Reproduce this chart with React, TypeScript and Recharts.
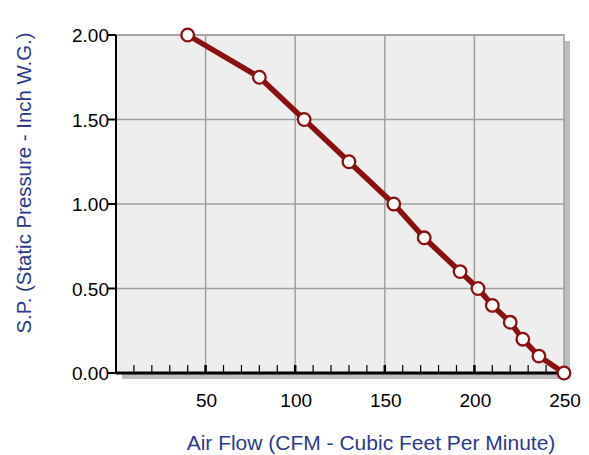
import React from "react";
import {
  ComposedChart,
  Line,
  XAxis,
  YAxis,
  ReferenceLine,
  ReferenceArea,
} from "recharts";

const airFlow = [40, 80, 105, 130, 155, 172, 192, 202, 210, 220, 227, 236, 250];
const pressure = [2.0, 1.75, 1.5, 1.25, 1.0, 0.8, 0.6, 0.5, 0.4, 0.3, 0.2, 0.1, 0.0];
const xTicks = [0, 10, 20, 30, 40, 50, 60, 70, 80, 90, 100, 110, 120, 130, 140, 150, 160, 170, 180, 190, 200, 210, 220, 230, 240, 250];
const xGrid = [50, 100, 150, 200];
const yTicks = [0, 0.5, 1.0, 1.5, 2.0];
const yGrid = [0.5, 1.0, 1.5, 2.0];
const xTitle = "Air Flow (CFM - Cubic Feet Per Minute)";
const yTitle = "S.P. (Static Pressure - Inch W.G.)";

const data = airFlow.map((x, i) => ({ x, y: pressure[i] }));

const FONT = "Liberation Sans, Arial, sans-serif";
const BLUE = "#2B3990";
const RED = "#8B1111";

const XTick = (props: any) => {
  const { x, y, payload } = props;
  const v = payload.value;
  const major = v % 50 === 0;
  return (
    <g>
      {v !== 0 && v !== 250 && (
        <line x1={x} x2={x} y1={y} y2={y - 8} stroke="#000" strokeWidth={major ? 2.5 : 1.2} />
      )}
      {major && v !== 0 && (
        <text x={x + 1} y={y + 34} textAnchor="middle" fontSize={19} fontFamily={FONT} fill="#000">
          {v}
        </text>
      )}
    </g>
  );
};

const YTick = (props: any) => {
  const { x, y, payload } = props;
  return (
    <g>
      <line x1={x} x2={x - 8} y1={y} y2={y} stroke="#000" strokeWidth={2} />
      <text x={x - 7} y={y + 7} textAnchor="end" fontSize={19} fontFamily={FONT} fill="#000">
        {payload.value.toFixed(2)}
      </text>
    </g>
  );
};

const Shadow = (props: any) => {
  const { x, y, width, height } = props;
  return (
    <g>
      <rect x={x + 6} y={y + 6} width={width} height={height} fill="#BDBDBD" />
      <rect x={x} y={y} width={width} height={height} fill="#EEEEEE" stroke="#A0A0A0" strokeWidth={1.5} />
    </g>
  );
};

const Dot = (props: any) => {
  const { cx, cy } = props;
  return <circle cx={cx} cy={cy} r={6.3} fill="#fff" stroke={RED} strokeWidth={2.3} />;
};

export default function App() {
  return (
    <div style={{ position: "absolute", left: 0, top: 0, width: 589, height: 455, background: "#fff" }}>
      <ComposedChart
        width={589}
        height={455}
        data={data}
        margin={{ top: 35, right: 25, bottom: 52, left: 0 }}
      >
        <ReferenceArea x1={0} x2={250} y1={0} y2={2} shape={<Shadow />} ifOverflow="visible" />
        {xGrid.map((v) => (
          <ReferenceLine key={"x" + v} x={v} stroke="#A0A0A0" strokeWidth={1.5} />
        ))}
        {yGrid.map((v) => (
          <ReferenceLine key={"y" + v} y={v} stroke="#A0A0A0" strokeWidth={1.5} />
        ))}
        <XAxis
          dataKey="x"
          type="number"
          domain={[0, 250]}
          ticks={xTicks}
          interval={0}
          height={30}
          axisLine={{ stroke: "#000", strokeWidth: 3 }}
          tickLine={false}
          tickSize={0}
          tickMargin={0}
          tick={<XTick />}
        />
        <YAxis
          type="number"
          domain={[0, 2]}
          ticks={yTicks}
          interval={0}
          width={116}
          axisLine={{ stroke: "#000", strokeWidth: 2 }}
          tickLine={false}
          tickSize={0}
          tickMargin={0}
          tick={<YTick />}
        />
        <Line
          dataKey="y"
          stroke={RED}
          strokeWidth={5.5}
          dot={<Dot />}
          activeDot={false}
          isAnimationActive={false}
        />
      </ComposedChart>
      <svg
        width={589}
        height={455}
        style={{ position: "absolute", left: 0, top: 0, pointerEvents: "none" }}
      >
        <text x={371} y={450} textAnchor="middle" fontSize={21} fontFamily={FONT} fill={BLUE}>
          {xTitle}
        </text>
        <text
          x={31}
          y={183}
          textAnchor="middle"
          fontSize={20.4}
          fontFamily={FONT}
          fill={BLUE}
          transform="rotate(-90, 31, 183)"
        >
          {yTitle}
        </text>
      </svg>
    </div>
  );
}
